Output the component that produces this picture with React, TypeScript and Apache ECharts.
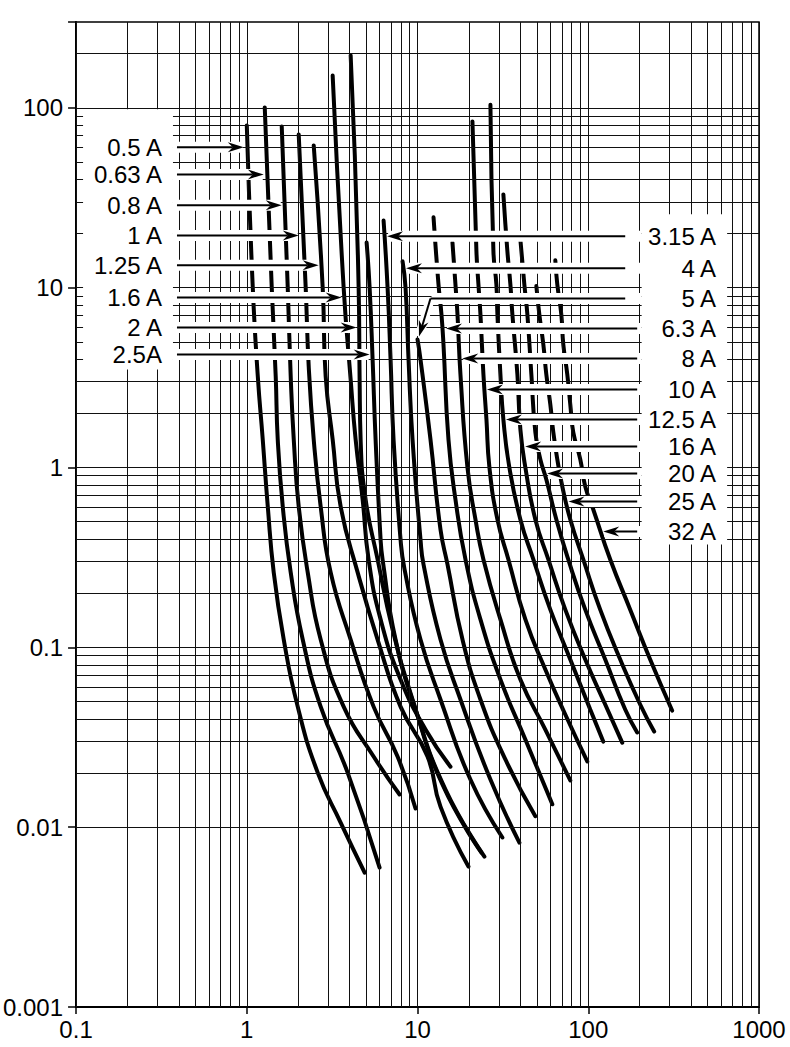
import { useEffect, useRef } from "react";
import * as echarts from "echarts";

// axis tick labels
const X_TICK_LABELS = ["0.1", "1", "10", "100", "1000"];
const Y_TICK_LABELS = ["0.001", "0.01", "0.1", "1", "10", "100"];

// gridline decades (log paper)
const X_DECADES = [0.1, 1, 10, 100];
const Y_DECADES = [0.001, 0.01, 0.1, 1, 10];
const MULTS = [1, 2, 3, 4, 5, 6, 7, 8, 9];
const Y_TOP_LINES = [100, 200];

// fuse curves: [current in A (x), time in s (y)]
const curve0_5 = [[1.0, 79.8], [1.084, 10.0], [1.16, 3.21], [1.24, 1.43], [1.327, 0.607], [1.438, 0.261], [1.646, 0.1105], [1.987, 0.0468], [2.602, 0.0201], [3.545, 0.0106], [4.899, 0.00559]];
const curve0_63 = [[1.274, 100.5], [1.4, 10.0], [1.477, 3.21], [1.518, 1.43], [1.624, 0.607], [1.808, 0.261], [2.126, 0.1105], [2.708, 0.0468], [3.896, 0.0201], [5.995, 0.00596]];
const curve0_8 = [[1.602, 78.8], [1.737, 10.0], [1.808, 3.21], [1.884, 1.43], [2.014, 0.607], [2.274, 0.261], [2.708, 0.1105], [3.692, 0.0468], [5.53, 0.0247], [7.847, 0.0152]];
const curve1 = [[2.014, 71.1], [2.213, 10.0], [2.305, 3.65], [2.466, 1.43], [2.708, 0.607], [3.099, 0.261], [4.058, 0.1105], [5.53, 0.0468], [7.638, 0.0247], [9.734, 0.0127]];
const curve1_25 = [[2.466, 61.8], [2.783, 10.0], [2.897, 3.21], [3.184, 1.43], [3.545, 0.607], [4.459, 0.261], [5.836, 0.1105], [7.953, 0.0468], [11.44, 0.0247], [13.63, 0.013], [19.87, 0.00604]];
const curve1_6 = [[3.184, 151], [3.692, 10.0], [4.058, 3.09], [4.34, 1.43], [4.769, 0.664], [5.17, 0.308], [6.077, 0.143], [7.953, 0.0662], [11.14, 0.0349], [15.6, 0.0217]];
const curve2 = [[4.058, 196], [4.519, 10.0], [4.58, 3.09], [4.642, 1.43], [4.966, 0.664], [5.836, 0.308], [7.142, 0.1256], [9.35, 0.0513], [14.0, 0.01726], [23.67, 0.00722]];
const curve2_5 = [[5.033, 17.8], [5.241, 10.0], [5.456, 3.99], [5.681, 1.43], [6.077, 0.398], [6.243, 0.308], [7.435, 0.1105], [9.734, 0.0451], [14.58, 0.0162], [24.65, 0.00686]];
const curve3_15 = [[6.327, 23.6], [6.677, 10.0], [6.952, 3.99], [7.238, 1.43], [7.953, 0.398], [8.395, 0.271], [10.41, 0.1105], [13.63, 0.0513], [20.41, 0.0184], [31.41, 0.00876]];
const curve4 = [[8.171, 14.0], [8.507, 10.0], [8.858, 3.99], [9.35, 1.43], [10.41, 0.398], [10.84, 0.289], [13.63, 0.1105], [17.84, 0.0513], [26.73, 0.0184], [39.5, 0.00821]];
const curve5 = [[10.0, 5.15], [10.41, 3.99], [11.91, 1.43], [13.63, 0.452], [14.98, 0.289], [18.34, 0.1105], [23.36, 0.0513], [32.7, 0.0238], [48.99, 0.0115]];
const curve6_3 = [[12.41, 24.6], [13.27, 10.4], [13.81, 7.1], [14.19, 4.83], [15.18, 1.43], [16.68, 0.664], [19.09, 0.308], [23.36, 0.143], [30.58, 0.0662], [42.82, 0.0307], [61.59, 0.0134]];
const curve8 = [[16.02, 17.8], [16.68, 10.4], [17.14, 7.1], [17.84, 3.29], [19.61, 1.0], [21.84, 0.514], [24.32, 0.308], [30.58, 0.143], [40.03, 0.0662], [56.05, 0.0349], [78.47, 0.0182]];
const curve10 = [[20.97, 84.0], [22.13, 15.9], [22.74, 10.4], [23.36, 7.1], [24.32, 3.29], [25.33, 1.85], [26.37, 1.0], [29.37, 0.514], [34.06, 0.308], [42.82, 0.143], [56.05, 0.0752], [73.37, 0.0423], [98.67, 0.0232]];
const curve12_5 = [[26.73, 104], [27.83, 15.9], [28.97, 10.4], [29.37, 7.1], [30.58, 3.29], [31.83, 1.85], [34.51, 1.0], [40.03, 0.514], [47.69, 0.308], [59.95, 0.162], [78.47, 0.0855], [102.7, 0.0451], [122.4, 0.0299]];
const curve16 = [[31.83, 33.0], [33.6, 15.9], [34.99, 10.4], [35.94, 7.1], [38.45, 3.29], [40.03, 1.63], [42.82, 1.0], [48.99, 0.514], [58.36, 0.308], [73.37, 0.162], [96.04, 0.0855], [125.7, 0.0481], [158.1, 0.0295]];
const curve20 = [[40.03, 18.5], [42.24, 10.4], [43.99, 7.1], [46.42, 3.29], [48.99, 1.57], [52.4, 1.11], [56.81, 0.858], [65.02, 0.514], [76.38, 0.308], [96.04, 0.162], [125.7, 0.0855], [164.6, 0.0451], [193.4, 0.0336]];
const curve25 = [[49.65, 10.2], [51.7, 7.1], [54.56, 4.83], [56.81, 3.29], [59.95, 2.24], [62.42, 1.57], [65.87, 1.11], [70.47, 0.784], [78.47, 0.514], [93.49, 0.308], [117.5, 0.162], [153.9, 0.0855], [201.4, 0.0481], [243.2, 0.034]];
const curve32 = [[64.12, 14.2], [65.87, 10.4], [69.51, 7.1], [71.42, 4.83], [75.37, 3.29], [78.47, 2.24], [81.71, 1.57], [89.79, 1.11], [96.04, 0.784], [107.0, 0.584], [134.5, 0.308], [176.1, 0.162], [230.5, 0.0855], [309.9, 0.0445]];

const CURVES = [
  curve0_5, curve0_63, curve0_8, curve1, curve1_25, curve1_6, curve2, curve2_5,
  curve3_15, curve4, curve5, curve6_3, curve8, curve10, curve12_5, curve16,
  curve20, curve25, curve32,
];
const CURVE_NAMES = [
  "0.5 A", "0.63 A", "0.8 A", "1 A", "1.25 A", "1.6 A", "2 A", "2.5 A",
  "3.15 A", "4 A", "5 A", "6.3 A", "8 A", "10 A", "12.5 A", "16 A",
  "20 A", "25 A", "32 A",
];

// left-hand labels, arrows point right
const LEFT_LABELS = ["0.5 A", "0.63 A", "0.8 A", "1 A", "1.25 A", "1.6 A", "2 A", "2.5A"];
const LEFT_ARROW_TIME = [60.4, 42.6, 28.7, 19.5, 13.3, 8.82, 6.01, 4.25];
const LEFT_ARROW_TIP = [0.96, 1.257, 1.602, 2.014, 2.636, 3.594, 4.4, 5.241];
const LEFT_ARROW_FROM = 0.39;

// right-hand labels, arrows point left
const RIGHT_LABELS = ["3.15 A", "4 A", "5 A", "6.3 A", "8 A", "10 A", "12.5 A", "16 A", "20 A", "25 A", "32 A"];
const RIGHT_ARROW_TIME = [19.3, 12.8, 8.71, 5.93, 4.04, 2.715, 1.849, 1.309, 0.926, 0.647, 0.4406];
const RIGHT_ARROW_TIP = [6.632, 8.56, 11.91, 14.68, 18.28, 25.5, 32.92, 42.7, 57.4, 76.6, 122.4];
const RIGHT_ARROW_FROM = [164.6, 164.6, 164.6, 193.4, 193.4, 193.4, 193.4, 193.4, 193.4, 193.4, 193.4];
// the 5 A arrow bends down to the top of its curve
const BENT_ARROW_INDEX = 2;
const BENT_ARROW_END = [10.2, 5.35];

const FONT = '"Liberation Sans", Arial, Helvetica, sans-serif';
const FONT_SIZE = 24;

function tickLabel(labels: string[], firstExp: number) {
  return (v: number) => {
    const e = Math.log10(v);
    const k = Math.round(e);
    if (Math.abs(e - k) > 0.01) return "";
    return labels[k - firstExp] ?? "";
  };
}

function arrowEls(sx: number, sy: number, tx: number, ty: number) {
  const len = Math.hypot(tx - sx, ty - sy);
  const dx = (tx - sx) / len;
  const dy = (ty - sy) / len;
  const nx = -dy;
  const ny = dx;
  const L = 16;
  const W = 5;
  const notch = 11;
  return [
    {
      type: "line",
      z: 110,
      shape: { x1: sx, y1: sy, x2: tx - dx * notch, y2: ty - dy * notch },
      style: { stroke: "#000", lineWidth: 2 },
    },
    {
      type: "polygon",
      z: 111,
      shape: {
        points: [
          [tx, ty],
          [tx - dx * L + nx * W, ty - dy * L + ny * W],
          [tx - dx * notch, ty - dy * notch],
          [tx - dx * L - nx * W, ty - dy * L - ny * W],
        ],
      },
      style: { fill: "#000" },
    },
  ];
}

function textEl(text: string, x: number, y: number) {
  return {
    type: "text",
    z: 120,
    x,
    y,
    style: {
      text,
      fill: "#000",
      fontSize: FONT_SIZE,
      fontFamily: FONT,
      align: "right",
      verticalAlign: "middle",
    },
  };
}

function buildOverlay(chart: echarts.ECharts) {
  const p = (x: number, y: number) =>
    chart.convertToPixel({ gridIndex: 0 }, [x, y]) as number[];
  const els: any[] = [];
  const gx0 = p(0.1, 1)[0];
  const band = 5.5;

  // left label box + knock-out bands + arrows
  const leftYs = LEFT_ARROW_TIME.map((t) => p(1, t)[1]);
  const lStart = p(LEFT_ARROW_FROM, 1)[0];
  const lBoxL = gx0 + 7;
  const lBoxR = lStart - 4;
  const lTop = leftYs[0] - 38;
  const lBot = leftYs[leftYs.length - 1] + 15;
  els.push({
    type: "rect",
    z: 100,
    shape: { x: lBoxL, y: lTop, width: lBoxR - lBoxL, height: lBot - lTop },
    style: { fill: "#fff" },
  });
  LEFT_LABELS.forEach((lab, i) => {
    const y = leftYs[i];
    const tip = p(LEFT_ARROW_TIP[i], LEFT_ARROW_TIME[i])[0];
    els.push({
      type: "rect",
      z: 100,
      shape: { x: lBoxR, y: y - band, width: tip - 1 - lBoxR, height: band * 2 },
      style: { fill: "#fff" },
    });
    els.push(...arrowEls(lStart, y, tip, y));
    els.push(textEl(lab, lBoxR - 11, y));
  });

  // right label box + bands + arrows
  const rightYs = RIGHT_ARROW_TIME.map((t) => p(1, t)[1]);
  const rBoxL = p(200, 1)[0] + 2;
  const rBoxR = p(600, 1)[0] + 6;
  const rTop = rightYs[0] - 22;
  const rBot = rightYs[rightYs.length - 1] + 13;
  els.push({
    type: "rect",
    z: 100,
    shape: { x: rBoxL, y: rTop, width: rBoxR - rBoxL, height: rBot - rTop },
    style: { fill: "#fff" },
  });
  RIGHT_LABELS.forEach((lab, i) => {
    const y = rightYs[i];
    const tip = p(RIGHT_ARROW_TIP[i], RIGHT_ARROW_TIME[i])[0];
    const start = p(RIGHT_ARROW_FROM[i], RIGHT_ARROW_TIME[i])[0];
    els.push({
      type: "rect",
      z: 100,
      shape: { x: tip + 1, y: y - band, width: rBoxL - tip - 1, height: band * 2 },
      style: { fill: "#fff" },
    });
    if (i === BENT_ARROW_INDEX) {
      const [ex, ey] = p(BENT_ARROW_END[0], BENT_ARROW_END[1]);
      els.push({
        type: "line",
        z: 110,
        shape: { x1: start, y1: y, x2: tip, y2: y },
        style: { stroke: "#000", lineWidth: 2 },
      });
      els.push({
        type: "line",
        z: 101,
        shape: { x1: tip, y1: y, x2: ex, y2: ey },
        style: { stroke: "#fff", lineWidth: 9 },
      });
      els.push(...arrowEls(tip, y, ex, ey));
    } else {
      els.push(...arrowEls(start, y, tip, y));
    }
    els.push(textEl(lab, rBoxR - 11, y));
  });

  return els;
}

export default function App() {
  const ref = useRef<HTMLDivElement>(null);

  useEffect(() => {
    if (!ref.current) return;
    const chart = echarts.init(ref.current, null, { renderer: "svg" });

    const xGrid = [...X_DECADES.flatMap((d) => MULTS.map((m) => +(d * m).toPrecision(6))), 1000];
    const yGrid = [...Y_DECADES.flatMap((d) => MULTS.map((m) => +(d * m).toPrecision(6))), ...Y_TOP_LINES];

    const axisText = { color: "#000", fontSize: FONT_SIZE, fontFamily: FONT };

    chart.setOption({
      animation: false,
      backgroundColor: "#fff",
      grid: {
        left: 75,
        right: 31,
        top: 22,
        bottom: 40,
        show: true,
        borderColor: "#000",
        borderWidth: 1.5,
        backgroundColor: "transparent",
      },
      xAxis: {
        type: "log",
        logBase: 10,
        min: 0.1,
        max: 1000,
        splitLine: { show: false },
        axisLine: { show: true, lineStyle: { color: "#000", width: 2 } },
        axisTick: { show: true, inside: false, length: 7, lineStyle: { color: "#000", width: 1.5 } },
        axisLabel: { ...axisText, margin: 10, formatter: tickLabel(X_TICK_LABELS, -1) },
      },
      yAxis: {
        type: "log",
        logBase: 10,
        min: 0.001,
        max: 300,
        splitLine: { show: false },
        axisLine: { show: true, lineStyle: { color: "#000", width: 2 } },
        axisTick: { show: true, inside: false, length: 8, lineStyle: { color: "#000", width: 1.5 } },
        axisLabel: { ...axisText, margin: 13, formatter: tickLabel(Y_TICK_LABELS, -3) },
      },
      series: [
        {
          type: "line",
          name: "grid",
          data: [[1, 1]],
          showSymbol: false,
          symbol: "none",
          lineStyle: { opacity: 0 },
          silent: true,
          z: 1,
          markLine: {
            silent: true,
            symbol: ["none", "none"],
            label: { show: false },
            emphasis: { disabled: true },
            lineStyle: { color: "#111", width: 1, type: "solid" },
            data: [
              ...xGrid.map((v) => ({ xAxis: v })),
              ...yGrid.map((v) => ({ yAxis: v })),
            ],
          },
        },
        ...CURVES.map((c, i) => ({
          type: "line",
          name: CURVE_NAMES[i],
          data: c,
          showSymbol: false,
          symbol: "none",
          smooth: 0.5,
          z: 3,
          lineStyle: { color: "#000", width: 4, cap: "round" },
          emphasis: { disabled: true },
        })),
      ],
    });

    chart.setOption({ graphic: { elements: buildOverlay(chart) } });

    return () => chart.dispose();
  }, []);

  return (
    <div
      ref={ref}
      style={{ position: "absolute", left: 0, top: 0, width: 790, height: 1047, background: "#fff" }}
    />
  );
}
